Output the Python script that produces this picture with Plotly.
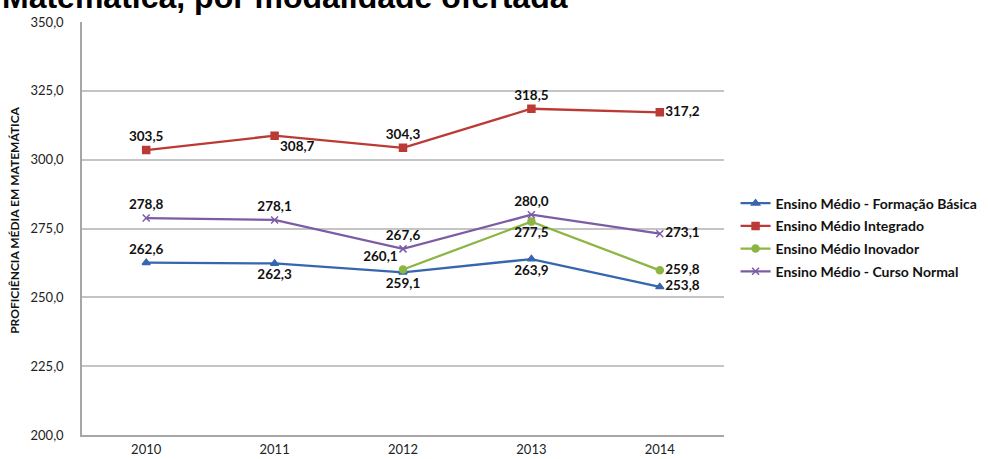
import plotly.graph_objects as go

# Proficiência média em Matemática por modalidade do Ensino Médio
anos = ["2010", "2011", "2012", "2013", "2014"]

formacao_basica = [262.6, 262.3, 259.1, 263.9, 253.8]
integrado = [303.5, 308.7, 304.3, 318.5, 317.2]
inovador = [None, None, 260.1, 277.5, 259.8]
curso_normal = [278.8, 278.1, 267.6, 280.0, 273.1]

y_ticks = [200, 225, 250, 275, 300, 325, 350]

series = [
    dict(name="Ensino Médio - Formação Básica", y=formacao_basica, color="#3566AE",
         symbol="triangle-up", size=7,
         pos=["top center", "bottom center", "bottom center", "bottom center", "middle right"]),
    dict(name="Ensino Médio Integrado", y=integrado, color="#BC3A35",
         symbol="square", size=7,
         pos=["top center", "bottom right", "top center", "top center", "middle right"]),
    dict(name="Ensino Médio Inovador", y=inovador, color="#8DB543",
         symbol="circle", size=7,
         pos=["top center", "top center", "top left", "bottom center", "middle right"]),
    dict(name="Ensino Médio - Curso Normal", y=curso_normal, color="#7B5CA5",
         symbol="x-thin", size=7,
         pos=["top center", "top center", "top center", "top center", "middle right"]),
]

fig = go.Figure()
for i, s in enumerate(series):
    fig.add_trace(go.Scatter(
        x=anos, y=s["y"], name="<b>" + s["name"] + "</b>", mode="lines+markers+text",
        line=dict(color=s["color"], width=2.3),
        marker=dict(symbol=s["symbol"], size=s["size"], color=s["color"],
                    line=dict(color=s["color"], width=1.5)),
        texttemplate="<b>%{y:.1f}</b>", textposition=s["pos"],
        textfont=dict(family="Lato, Open Sans, sans-serif", size=13.5, color="#111111"),
        legendgroup=str(i), cliponaxis=False,
    ))

fig.update_layout(
    width=988, height=459,
    margin=dict(l=82, r=264, t=22, b=24, autoexpand=False),
    paper_bgcolor="white", plot_bgcolor="white",
    separators=",.",
    showlegend=True,
    legend=dict(
        x=1.018, xanchor="left", y=0.478, yanchor="middle",
        font=dict(family="Lato, Open Sans, sans-serif", size=14, color="#111111"),
        tracegroupgap=1.5, bgcolor="rgba(0,0,0,0)",
    ),
    xaxis=dict(
        type="category", range=[-0.5, 4.5], showgrid=False, zeroline=False,
        showline=True, linecolor="#A6A6A6", linewidth=1.5,
        tickfont=dict(family="Lato, Open Sans, sans-serif", size=13, color="#222222"),
        ticks="", ticklabelstandoff=2, automargin=False,
    ),
    yaxis=dict(
        range=[200, 350], tickvals=y_ticks, tickformat=".1f",
        showgrid=True, gridcolor="#C4C4C4", gridwidth=1.5, zeroline=False,
        showline=True, linecolor="#A6A6A6", linewidth=1.5,
        tickfont=dict(family="Lato, Open Sans, sans-serif", size=13, color="#222222"),
        ticks="", ticklabelstandoff=14, automargin=False,
    ),
    annotations=[
        dict(text="<b>PROFICIÊNCIA MÉDIA EM MATEMÁTICA</b>", textangle=-90,
             xref="paper", yref="paper", x=-0.105, y=0.52, xanchor="center", yanchor="middle",
             showarrow=False,
             font=dict(family="Lato, Open Sans, sans-serif", size=12, color="#111111")),
        dict(text="<b>Matemática, por modalidade ofertada</b>",
             xref="paper", yref="paper", x=-0.128, y=1.012, xanchor="left", yanchor="bottom",
             showarrow=False,
             font=dict(family="Liberation Sans, Arial, sans-serif", size=32, color="#000000")),
    ],
)

fig.write_html("out.html")
